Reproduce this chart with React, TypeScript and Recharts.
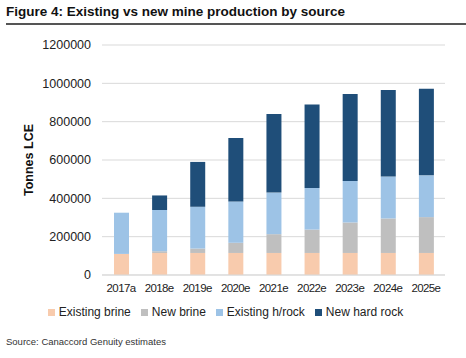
import { BarChart, Bar, XAxis, YAxis, CartesianGrid, Legend, Label } from 'recharts'

const years = ['2017a', '2018e', '2019e', '2020e', '2021e', '2022e', '2023e', '2024e', '2025e']
const existingBrine = [110000, 115000, 115000, 115000, 115000, 115000, 115000, 115000, 115000]
const newBrine = [0, 9000, 23000, 53000, 98000, 122000, 159000, 180000, 187000]
const existingHardRock = [215000, 215000, 218000, 216000, 217000, 217000, 217000, 219000, 218000]
const newHardRock = [0, 76000, 234000, 331000, 410000, 436000, 454000, 451000, 452000]
const yTicks = [0, 200000, 400000, 600000, 800000, 1000000, 1200000]
const seriesOrder = ['Existing brine', 'New brine', 'Existing h/rock', 'New hard rock']

const data = years.map((year, i) => ({
  year,
  existingBrine: existingBrine[i],
  newBrine: newBrine[i],
  existingHardRock: existingHardRock[i],
  newHardRock: newHardRock[i],
}))

const font = '"Liberation Sans", Arial, sans-serif'
const tickStyle = { fontSize: 12.5, fill: '#222', fontFamily: font }

export default function App() {
  return (
    <div style={{ position: 'absolute', left: 0, top: 0, width: 466, height: 358, background: '#fff', fontFamily: font }}>
      <div style={{ position: 'absolute', left: 6, top: 4, fontSize: 13.5, fontWeight: 'bold', color: '#111', whiteSpace: 'nowrap' }}>
        Figure 4: Existing vs new mine production by source
      </div>
      <div style={{ position: 'absolute', left: 6, right: 0, top: 23, height: 2, background: '#555' }} />
      <BarChart
        width={466}
        height={358}
        data={data}
        margin={{ top: 45, right: 21, bottom: 39, left: 0 }}
        barSize={15}
      >
        <CartesianGrid stroke="#D9D9D9" vertical={false} />
        <XAxis
          dataKey="year"
          height={30}
          tick={{ fontSize: 11.5, fill: '#222', fontFamily: font, letterSpacing: -0.6 }}
          axisLine={{ stroke: '#D9D9D9' }}
          tickLine={false}
          tickMargin={3}
          interval={0}
        />
        <YAxis
          width={102}
          domain={[0, 1200000]}
          ticks={yTicks}
          interval={0}
          tick={tickStyle}
          axisLine={false}
          tickLine={false}
          tickMargin={5}
        >
          <Label
            value="Tonnes LCE"
            angle={-90}
            position="insideLeft"
            offset={29}
            style={{ textAnchor: 'middle', fontSize: 12.5, fontWeight: 'bold', fill: '#111', fontFamily: font }}
          />
        </YAxis>
        <Legend
          verticalAlign="bottom"
          iconType="square"
          iconSize={7}
          itemSorter={(item) => seriesOrder.indexOf(String(item.value))}
          wrapperStyle={{ fontSize: 12, fontFamily: font, color: '#222', left: 8 }}
          formatter={(v) => <span style={{ color: '#222' }}>{v}</span>}
        />
        <Bar dataKey="existingBrine" stackId="a" fill="#F8CBAD" name="Existing brine" isAnimationActive={false} />
        <Bar dataKey="newBrine" stackId="a" fill="#BFBFBF" name="New brine" isAnimationActive={false} />
        <Bar dataKey="existingHardRock" stackId="a" fill="#9DC3E6" name="Existing h/rock" isAnimationActive={false} />
        <Bar dataKey="newHardRock" stackId="a" fill="#1F4E79" name="New hard rock" isAnimationActive={false} />
      </BarChart>
      <div style={{ position: 'absolute', left: 6, top: 336, fontSize: 9.5, color: '#333', whiteSpace: 'nowrap' }}>
        Source: Canaccord Genuity estimates
      </div>
    </div>
  )
}
